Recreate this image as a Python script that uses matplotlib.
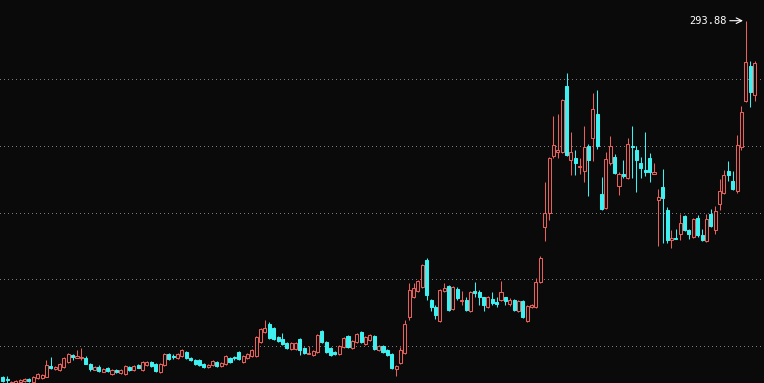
import matplotlib
matplotlib.use("Agg")
import matplotlib.pyplot as plt
import numpy as np

opens = [80.1,78.9,76.5,76.5,77.1,77.7,78.9,77.1,79.5,79.5,
         80.1,86.7,84.9,84.3,86.1,89.1,93.3,91.5,91.5,91.5,
         87.9,84.3,86.1,83.1,85.5,81.9,84.3,82.5,81.9,86.1,
         84.3,87.3,84.3,87.3,89.1,87.9,83.1,87.3,93.9,92.7,
         91.5,92.7,95.1,91.5,90.3,90.3,87.9,86.1,87.3,89.1,
         86.7,87.9,91.5,92.1,95.1,89.1,91.5,92.7,92.7,101.1,
         107.1,111.9,109.5,104.1,102.9,100.5,96.9,96.9,102.9,97.5,
         93.9,93.3,95.1,107.7,101.1,97.5,95.1,93.9,98.1,104.7,
         97.5,101.1,107.1,99.9,102.3,104.7,96.3,98.7,96.3,93.9,
         84.9,88.5,94.5,116.1,128.1,131.7,134.1,150.3,126.3,122.1,
         113.7,131.7,134.7,120.9,132.9,125.7,126.3,119.7,131.7,131.1,
         128.1,122.1,126.9,125.1,126.3,128.1,123.9,126.3,119.7,125.7,
         113.7,122.1,122.1,137.1,170.1,178.5,212.7,215.1,215.1,254.7,
         210.3,211.5,206.1,203.7,218.7,223.5,237.9,189.9,181.5,208.5,
         212.1,194.7,201.9,199.5,218.7,216.3,208.5,204.3,211.5,201.9,
         186.3,194.1,180.3,162.3,163.5,165.9,176.7,168.3,164.1,175.5,
         165.3,161.7,177.9,168.3,183.9,190.5,203.7,197.7,191.7,218.1,
         245.7,266.7,249.3]
highs = [80.7,80.7,77.7,78.3,78.9,79.5,79.5,80.7,82.5,81.9,
         90.3,92.1,86.7,88.5,92.1,94.5,93.9,96.3,97.5,92.7,
         88.5,86.7,87.3,85.5,86.1,84.9,84.9,84.9,87.3,86.7,
         87.3,87.9,89.7,89.7,89.7,88.5,88.5,94.5,94.5,93.9,
         94.5,96.9,95.7,92.1,90.9,90.9,88.5,87.9,90.3,89.7,
         89.1,93.3,92.1,92.7,95.7,93.3,94.5,96.9,104.7,109.5,
         114.3,113.1,110.1,104.7,106.5,101.1,101.1,101.1,103.5,98.1,
         98.7,96.3,105.9,108.3,101.7,98.1,95.7,99.3,104.1,105.3,
         102.3,106.5,107.7,104.7,105.9,105.3,99.3,99.3,96.9,94.5,
         87.3,98.1,114.3,136.5,136.5,138.3,147.9,151.5,126.9,123.3,
         132.9,136.5,135.3,134.7,134.1,131.7,128.1,131.7,137.1,132.3,
         128.1,128.7,131.1,128.1,137.7,128.1,127.5,126.9,126.3,126.3,
         123.3,123.9,139.5,152.7,197.1,212.1,236.7,237.9,246.9,262.5,
         227.1,216.3,211.5,230.7,219.9,250.5,252.3,200.1,215.1,224.7,
         213.9,203.1,210.3,223.5,230.7,218.7,212.1,227.1,214.5,208.5,
         192.9,204.9,182.1,168.3,168.9,177.9,177.3,168.9,175.5,177.3,
         168.9,177.9,180.9,182.7,198.9,204.3,209.7,203.7,225.3,242.7,
         293.88,269.7,269.7]
lows = [77.1,76.5,76.5,76.5,76.5,77.1,77.1,76.5,78.9,78.9,
        80.1,84.9,84.3,83.7,85.5,88.5,90.3,91.5,90.3,87.9,
        83.7,84.3,83.1,83.1,83.1,81.3,82.5,81.9,81.3,83.7,
        83.7,85.5,83.7,86.7,86.1,83.1,82.5,86.7,90.3,90.9,
        90.9,92.1,90.9,89.7,87.3,86.7,85.5,85.5,86.7,86.1,
        86.1,87.3,88.5,90.3,90.3,88.5,90.9,92.1,92.1,100.5,
        106.5,102.9,102.3,101.1,99.3,96.9,96.3,96.3,93.3,93.9,
        93.9,92.7,94.5,100.5,94.5,92.7,93.3,93.3,97.5,97.5,
        96.9,100.5,100.5,99.3,101.7,96.3,95.7,94.5,92.7,84.9,
        80.7,87.9,93.9,114.3,127.5,131.1,133.5,126.3,119.7,114.9,
        113.1,131.1,119.7,120.3,126.3,123.3,119.7,119.1,128.1,123.3,
        119.7,121.5,123.3,122.1,125.7,123.3,122.7,119.7,119.1,115.5,
        113.1,121.5,121.5,136.5,161.7,174.3,211.5,211.5,214.5,212.7,
        201.3,201.3,201.9,197.1,188.7,209.7,216.9,180.3,180.9,207.3,
        201.9,189.3,199.5,198.9,199.5,191.1,199.5,200.7,197.1,201.9,
        158.7,160.5,160.5,157.5,162.9,162.3,167.7,162.9,163.5,164.1,
        161.7,161.1,170.1,165.9,180.3,189.9,197.7,192.3,190.5,216.3,
        245.1,242.1,245.7]
closes = [77.7,78.3,77.1,77.7,78.3,78.9,77.7,80.1,81.9,81.3,
          87.3,85.5,86.1,87.9,91.5,93.9,92.1,92.7,92.1,87.9,
          84.9,86.1,83.7,84.9,83.7,84.3,83.1,84.3,86.7,84.3,
          86.7,85.5,89.1,89.1,86.7,83.7,87.9,93.9,90.9,92.1,
          93.9,96.3,91.5,90.3,87.9,87.3,86.1,87.3,89.7,86.7,
          88.5,92.7,89.1,91.5,90.9,92.7,93.9,96.3,104.1,108.9,
          109.5,103.5,102.9,101.7,99.9,97.5,100.5,100.5,96.3,94.5,
          94.5,95.7,105.3,101.1,95.1,93.3,93.9,98.7,103.5,98.1,
          101.7,105.9,101.1,104.1,105.3,96.9,98.7,95.1,93.3,85.5,
          86.7,96.3,111.9,132.3,133.5,137.7,147.3,129.3,122.1,117.3,
          132.3,133.5,120.3,134.1,127.5,126.3,120.3,131.1,130.5,128.1,
          123.3,128.1,124.5,123.9,131.1,125.7,126.3,120.3,125.7,116.1,
          122.7,123.3,137.1,151.5,178.5,211.5,219.3,216.3,246.3,213.3,
          215.1,208.5,206.7,218.1,210.3,240.9,218.7,180.9,210.9,218.7,
          202.5,201.9,200.7,219.9,218.1,210.3,205.5,203.1,203.1,203.1,
          188.1,187.5,162.3,163.5,162.9,172.5,168.3,165.9,174.9,165.3,
          162.3,174.9,170.7,179.7,191.7,201.3,201.3,192.9,219.3,239.1,
          269.1,251.1,268.5]
grid_levels = [98.7, 138.7, 178.7, 218.7, 258.7]

BG = "#0a0a0a"
UP = "#e8605c"
DOWN = "#3ff0f0"
LW = 0.75

o = np.array(opens); h = np.array(highs); l = np.array(lows); c = np.array(closes)
n = len(o)
x = np.arange(n)

fig = plt.figure(figsize=(7.64, 3.83), dpi=100, facecolor=BG)
ax = fig.add_axes([0, 0, 1, 1])
ax.set_facecolor(BG)

for g in grid_levels:
    ax.axhline(g, color="#7a7a7a", lw=0.72, linestyle=(0, (1, 4)), zorder=1,
               antialiased=False)

up = c >= o
dn = ~up
top = np.maximum(o, c)
bot = np.minimum(o, c)
W = 0.7

# down candles: full wick then filled body
ax.vlines(x[dn], l[dn], h[dn], color=DOWN, lw=LW, zorder=2)
ax.bar(x[dn], np.maximum(top[dn] - bot[dn], 0.3), bottom=bot[dn], width=W,
       color=DOWN, edgecolor=DOWN, linewidth=LW, zorder=3)

# up candles: hollow body, wicks outside body
ax.vlines(x[up], top[up], h[up], color=UP, lw=LW, zorder=2)
ax.vlines(x[up], l[up], bot[up], color=UP, lw=LW, zorder=2)
ax.bar(x[up], np.maximum(top[up] - bot[up], 0.3), bottom=bot[up], width=W,
       facecolor=BG, edgecolor=UP, linewidth=LW, zorder=3)

imax = int(np.argmax(h))
hmax = h[imax]
ax.annotate("", xy=(imax, hmax), xycoords="data",
            xytext=(-16, 0), textcoords="offset pixels",
            arrowprops=dict(arrowstyle="->", color="white", lw=0.8,
                            shrinkA=0, shrinkB=2))
ax.annotate(f"{hmax:.2f}", xy=(imax, hmax), xycoords="data",
            xytext=(-19, 0), textcoords="offset pixels",
            ha="right", va="center", color="white",
            fontsize=7.5, family="DejaVu Sans Mono")

ax.set_xlim(-0.62, 174.17)
ax.set_ylim(76.5, 306.3)
ax.axis("off")

fig.savefig("out.png", dpi=100, facecolor=BG)
